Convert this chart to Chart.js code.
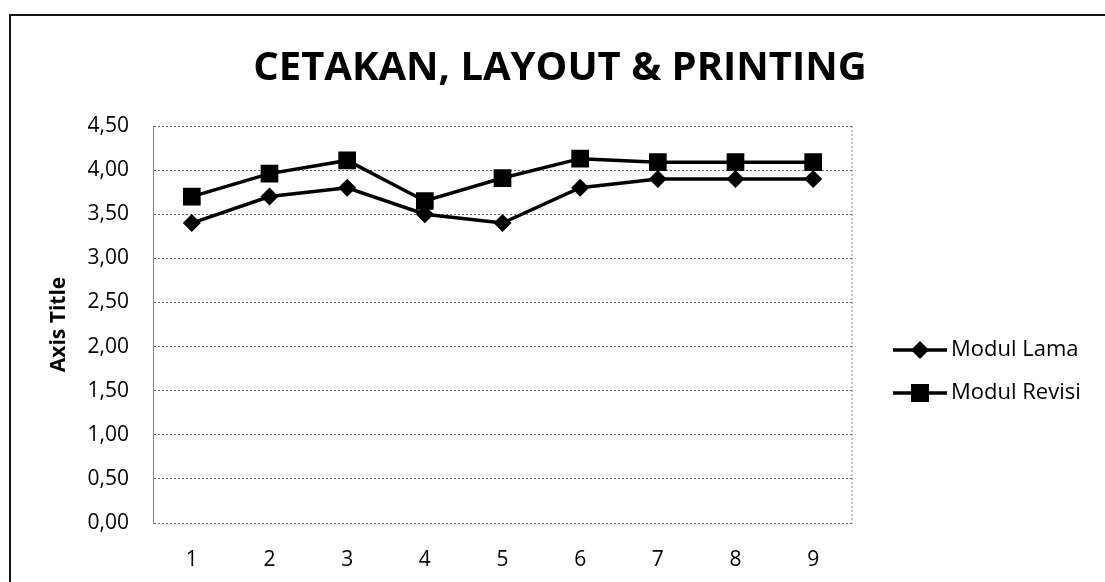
<!DOCTYPE html>
<html>
<head>
<meta charset="utf-8">
<script src="https://cdn.jsdelivr.net/npm/chart.js@4/dist/chart.umd.min.js"></script>
<style>
  html, body { margin: 0; padding: 0; background: #fff; }
  #wrap { width: 1105px; height: 582px; position: relative; }
</style>
</head>
<body>
<div id="wrap"><canvas id="chart"></canvas></div>
<script>
/* CETAKAN, LAYOUT & PRINTING — line chart */

const categories = ['1', '2', '3', '4', '5', '6', '7', '8', '9'];
const modulLama = [3.40, 3.70, 3.80, 3.50, 3.40, 3.80, 3.90, 3.90, 3.90];
const modulRevisi = [3.70, 3.96, 4.11, 3.65, 3.91, 4.13, 4.09, 4.09, 4.09];
const yTicks = [0, 0.5, 1, 1.5, 2, 2.5, 3, 3.5, 4, 4.5];

const FONT = "'Open Sans', sans-serif";

// frame + title + legend, drawn around the plot
const decor = {
  id: 'decor',
  beforeDraw(chart) {
    const ctx = chart.ctx;
    ctx.save();
    ctx.fillStyle = '#fff';
    ctx.fillRect(0, 0, chart.width, chart.height);
    ctx.strokeStyle = '#111';
    ctx.lineWidth = 2;
    ctx.beginPath();
    ctx.moveTo(10, chart.height);
    ctx.lineTo(10, 15);
    ctx.lineTo(chart.width, 15);
    ctx.stroke();
    ctx.restore();
  },
  afterDraw(chart) {
    const ctx = chart.ctx;
    ctx.save();
    ctx.fillStyle = '#000';
    ctx.font = "bold 40px " + FONT;
    ctx.textAlign = 'center';
    ctx.textBaseline = 'alphabetic';
    ctx.fillText('CETAKAN, LAYOUT & PRINTING', 560, 80);

    // legend
    const rows = [{ y: 350, ds: 0 }, { y: 393, ds: 1 }];
    rows.forEach(r => {
      const ds = chart.data.datasets[r.ds];
      ctx.strokeStyle = '#000';
      ctx.lineWidth = 3.5;
      ctx.beginPath();
      ctx.moveTo(893, r.y);
      ctx.lineTo(947, r.y);
      ctx.stroke();
      ctx.fillStyle = '#000';
      if (ds.pointStyle === 'rectRot') {
        const s = 9;
        ctx.beginPath();
        ctx.moveTo(920, r.y - s);
        ctx.lineTo(920 + s, r.y);
        ctx.lineTo(920, r.y + s);
        ctx.lineTo(920 - s, r.y);
        ctx.closePath();
        ctx.fill();
      } else {
        ctx.fillRect(911, r.y - 9, 18, 18);
      }
      ctx.font = "22px " + FONT;
      ctx.textAlign = 'left';
      ctx.textBaseline = 'middle';
      ctx.fillText(ds.label, 951, r.y);
    });
    ctx.restore();
  }
};

new Chart(document.getElementById('chart'), {
  type: 'line',
  data: {
    labels: categories,
    datasets: [
      {
        label: 'Modul Lama',
        data: modulLama,
        borderColor: '#000',
        backgroundColor: '#000',
        borderWidth: 3.5,
        pointStyle: 'rectRot',
        pointRadius: 9,
        pointBorderWidth: 0,
        tension: 0
      },
      {
        label: 'Modul Revisi',
        data: modulRevisi,
        borderColor: '#000',
        backgroundColor: '#000',
        borderWidth: 3.5,
        pointStyle: 'rect',
        pointRadius: 12.5,
        pointBorderWidth: 0,
        tension: 0
      }
    ]
  },
  options: {
    responsive: true,
    maintainAspectRatio: false,
    animation: false,
    layout: { padding: { left: 46, right: 253, top: 126, bottom: 0 } },
    plugins: {
      legend: { display: false },
      title: { display: false },
      tooltip: { enabled: false }
    },
    scales: {
      x: {
        offset: true,
        grid: { display: false, drawTicks: false },
        border: { display: false },
        ticks: { color: '#000', font: { family: FONT, size: 21 }, padding: 24 },
        afterFit: s => { s.height = 59; }
      },
      y: {
        min: 0,
        max: 4.5,
        afterBuildTicks: s => { s.ticks = yTicks.map(v => ({ value: v })); },
        title: {
          display: true,
          text: 'Axis Title',
          color: '#000',
          font: { family: FONT, size: 21, weight: 'bold' },
          padding: 0
        },
        grid: {
          color: '#666',
          lineWidth: 1,
          drawTicks: false
        },
        border: { display: true, color: '#888', dash: [2, 2] },
        ticks: {
          color: '#000',
          font: { family: FONT, size: 21 },
          padding: 24,
          callback: v => v.toFixed(2).replace('.', ',')
        },
        afterFit: s => { s.width = 107; }
      }
    },
    elements: { line: { borderJoinStyle: 'miter' } }
  },
  plugins: [decor, {
    id: 'dottedGrid',
    beforeDatasetsDraw(chart) {
      // dotted right edge of the plot frame
      const a = chart.chartArea;
      const ctx = chart.ctx;
      ctx.save();
      ctx.strokeStyle = '#888';
      ctx.setLineDash([2, 2]);
      ctx.lineWidth = 1;
      ctx.beginPath();
      ctx.moveTo(a.right, a.top);
      ctx.lineTo(a.right, a.bottom);
      ctx.stroke();
      ctx.restore();
    }
  }]
});
</script>
</body>
</html>
